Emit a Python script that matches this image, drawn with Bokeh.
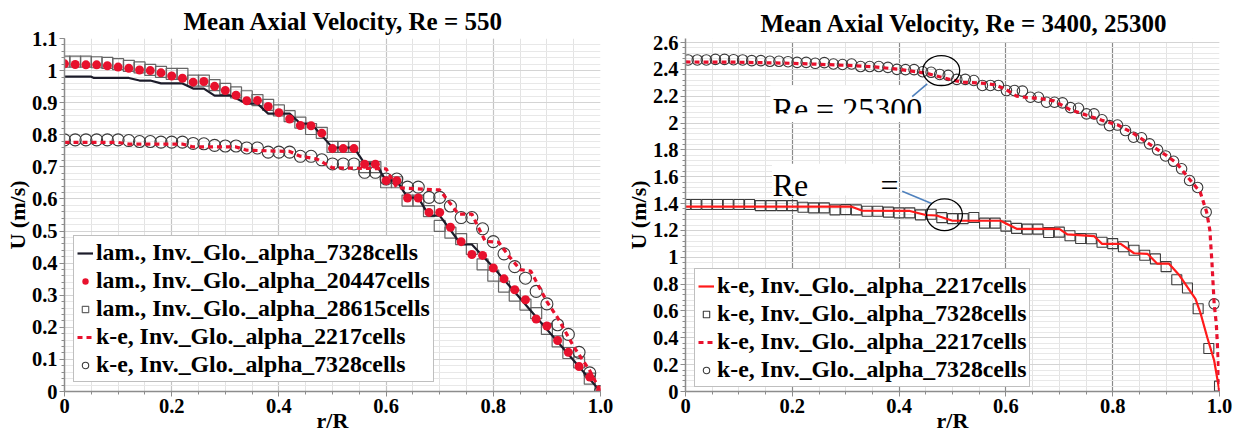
from bokeh.plotting import figure
from bokeh.layouts import row
from bokeh.models import FixedTicker, Legend, LegendItem, Range1d
from bokeh.core.properties import value
from bokeh.embed import file_html
from bokeh.resources import INLINE

SERIF = "Liberation Serif"
RED = "#e8112d"

# ---------------- data: left chart (Re = 550) ----------------
R_GRID = [0.00, 0.02, 0.04, 0.06, 0.08, 0.10, 0.12, 0.14, 0.16, 0.18,
          0.20, 0.22, 0.24, 0.26, 0.28, 0.30, 0.32, 0.34, 0.36, 0.38,
          0.40, 0.42, 0.44, 0.46, 0.48, 0.50, 0.52, 0.54, 0.56, 0.58,
          0.60, 0.62, 0.64, 0.66, 0.68, 0.70, 0.72, 0.74, 0.76, 0.78,
          0.80, 0.82, 0.84, 0.86, 0.88, 0.90, 0.92, 0.94, 0.96, 0.98, 1.00]

R_LAM_7328 = [0, 0.05, 0.055, 0.12, 0.14, 0.16, 0.18, 0.22, 0.24, 0.26, 0.28, 0.31,
              0.34, 0.36, 0.38, 0.42, 0.44, 0.46, 0.50, 0.54, 0.56, 0.58, 0.60, 0.62,
              0.64, 0.66, 0.68, 0.70, 0.74, 0.76, 0.80, 0.84, 0.88, 0.92, 0.96, 1.0]
U_LAM_7328 = [0.981, 0.981, 0.977, 0.977, 0.969, 0.969, 0.960, 0.960, 0.944, 0.944, 0.922, 0.922,
              0.897, 0.897, 0.866, 0.866, 0.835, 0.835, 0.760, 0.760, 0.710, 0.710, 0.657, 0.657,
              0.604, 0.604, 0.548, 0.548, 0.458, 0.458, 0.387, 0.310, 0.232, 0.155, 0.077, 0.0]

U_LAM_20447 = [1.021, 1.019, 1.018, 1.018, 1.015, 1.011, 1.007, 1.002, 1.000, 0.993,
               0.983, 0.976, 0.964, 0.966, 0.951, 0.938, 0.923, 0.906, 0.907, 0.888,
               0.869, 0.849, 0.829, 0.828, 0.805, 0.757, 0.757, 0.757, 0.708, 0.708,
               0.657, 0.657, 0.603, 0.603, 0.558, 0.558, 0.512, 0.467, 0.427, 0.424,
               0.385, 0.351, 0.317, 0.286, 0.226, 0.204, 0.159, 0.122, 0.078, 0.045, 0.003]

U_LAM_28615 = [1.028, 1.028, 1.028, 1.026, 1.024, 1.020, 1.015, 1.010, 1.002, 0.996,
               0.990, 0.990, 0.969, 0.969, 0.955, 0.943, 0.932, 0.920, 0.908, 0.893,
               0.876, 0.858, 0.838, 0.818, 0.806, 0.762, 0.762, 0.762, 0.699, 0.699,
               0.652, 0.652, 0.595, 0.595, 0.562, 0.516, 0.495, 0.475, 0.444, 0.396,
               0.361, 0.327, 0.299, 0.271, 0.244, 0.195, 0.156, 0.120, 0.091, 0.040, 0.0]

R_KE_2217_550 = [0, 0.10, 0.12, 0.22, 0.24, 0.32, 0.34, 0.42, 0.44, 0.47, 0.50, 0.60, 0.62,
                 0.70, 0.735, 0.76, 0.785, 0.81, 0.83, 0.85, 0.87, 0.90, 0.92, 0.95, 0.98, 1.0]
U_KE_2217_550 = [0.776, 0.776, 0.771, 0.771, 0.762, 0.762, 0.752, 0.748, 0.733, 0.725, 0.697, 0.694, 0.635,
                 0.628, 0.553, 0.553, 0.468, 0.465, 0.420, 0.380, 0.375, 0.280, 0.230, 0.140, 0.065, 0.0]

U_KE_7328_550 = [0.784, 0.784, 0.784, 0.784, 0.784, 0.784, 0.782, 0.779, 0.779, 0.777,
                 0.777, 0.777, 0.773, 0.772, 0.767, 0.765, 0.765, 0.759, 0.759, 0.746,
                 0.746, 0.746, 0.733, 0.733, 0.722, 0.709, 0.709, 0.709, 0.683, 0.683,
                 0.662, 0.662, 0.637, 0.637, 0.605, 0.605, 0.578, 0.542, 0.542, 0.507,
                 0.467, 0.429, 0.389, 0.353, 0.312, 0.273, 0.208, 0.178, 0.122, 0.058, 0.0]

# ---------------- data: right chart (Re = 3400, 25300) ----------------
R_KE_2217_3400 = [0, 0.31, 0.33, 0.42, 0.45, 0.47, 0.50, 0.59, 0.62, 0.70, 0.715, 0.765, 0.78,
                  0.815, 0.84, 0.865, 0.883, 0.905, 0.924, 0.94, 0.955, 0.964, 0.977, 0.99, 1.0]
U_KE_2217_3400 = [1.378, 1.378, 1.348, 1.345, 1.315, 1.311, 1.272, 1.272, 1.212, 1.212, 1.170, 1.158, 1.100,
                  1.100, 1.030, 1.026, 0.953, 0.953, 0.870, 0.777, 0.690, 0.590, 0.404, 0.231, 0.0]

U_KE_7328_3400 = [1.393, 1.393, 1.393, 1.393, 1.393, 1.393, 1.393, 1.385, 1.385, 1.385,
                  1.385, 1.373, 1.368, 1.368, 1.353, 1.355, 1.353, 1.343, 1.343, 1.336,
                  1.331, 1.331, 1.316, 1.320, 1.295, 1.288, 1.288, 1.296, 1.254, 1.254,
                  1.232, 1.215, 1.210, 1.210, 1.185, 1.187, 1.160, 1.140, 1.138, 1.112,
                  1.102, 1.078, 1.052, 1.015, 0.988, 0.930, 0.833, 0.771, 0.616, 0.320, 0.040]

R_KE_2217_25300 = [0, 0.10, 0.20, 0.30, 0.35, 0.40, 0.45, 0.50, 0.52, 0.56, 0.58, 0.60, 0.62,
                   0.64, 0.66, 0.69, 0.72, 0.75, 0.78, 0.81, 0.84, 0.87, 0.90, 0.92, 0.94,
                   0.964, 0.976, 0.982, 0.986, 0.99, 0.994, 0.998, 1.0]
U_KE_2217_25300 = [2.455, 2.453, 2.445, 2.430, 2.420, 2.400, 2.372, 2.320, 2.305, 2.295, 2.285, 2.250, 2.200,
                   2.190, 2.185, 2.165, 2.100, 2.060, 2.020, 1.985, 1.920, 1.840, 1.760, 1.700, 1.600,
                   1.485, 1.336, 1.200, 0.951, 0.653, 0.504, 0.206, 0.0]

R_KE_7328_25300 = [0.005, 0.022, 0.039, 0.056, 0.073, 0.090, 0.107, 0.124, 0.141, 0.158,
                   0.175, 0.192, 0.209, 0.226, 0.243, 0.260, 0.277, 0.294, 0.311, 0.328,
                   0.345, 0.362, 0.379, 0.396, 0.412, 0.428, 0.444, 0.460, 0.476, 0.492,
                   0.508, 0.524, 0.540, 0.556, 0.571, 0.586, 0.601, 0.616, 0.631, 0.646,
                   0.661, 0.676, 0.691, 0.706, 0.721, 0.736, 0.751, 0.765, 0.780, 0.794,
                   0.809, 0.824, 0.839, 0.854, 0.869, 0.884, 0.899, 0.914, 0.929, 0.944,
                   0.959, 0.975, 0.990]
U_KE_7328_25300 = [2.470, 2.470, 2.470, 2.474, 2.474, 2.472, 2.470, 2.465, 2.465, 2.460,
                   2.460, 2.457, 2.452, 2.452, 2.445, 2.450, 2.440, 2.436, 2.440, 2.421,
                   2.421, 2.421, 2.415, 2.400, 2.398, 2.398, 2.382, 2.378, 2.362, 2.355,
                   2.325, 2.325, 2.317, 2.280, 2.280, 2.280, 2.242, 2.242, 2.238, 2.192,
                   2.192, 2.155, 2.155, 2.150, 2.115, 2.110, 2.068, 2.068, 2.024, 1.981,
                   1.985, 1.944, 1.894, 1.890, 1.845, 1.800, 1.755, 1.715, 1.659, 1.572,
                   1.520, 1.336, 0.653]

# tick labels
X_TICKS = [0.0, 0.2, 0.4, 0.6, 0.8, 1.0]
X_LABELS = ["0", "0.2", "0.4", "0.6", "0.8", "1.0"]
Y1_TICKS = [0.0, 0.1, 0.2, 0.3, 0.4, 0.5, 0.6, 0.7, 0.8, 0.9, 1.0, 1.1]
Y1_LABELS = ["0", "0.1", "0.2", "0.3", "0.4", "0.5", "0.6", "0.7", "0.8", "0.9", "1", "1.1"]
Y2_TICKS = [0.0, 0.2, 0.4, 0.6, 0.8, 1.0, 1.2, 1.4, 1.6, 1.8, 2.0, 2.2, 2.4, 2.6]
Y2_LABELS = ["0", "0.2", "0.4", "0.6", "0.8", "1", "1.2", "1.4", "1.6", "1.8", "2", "2.2", "2.4", "2.6"]

LEG_LEFT = ["lam., Inv._Glo._alpha_7328cells", "lam., Inv._Glo._alpha_20447cells",
            "lam., Inv._Glo._alpha_28615cells", "k-e, Inv._Glo._alpha_2217cells",
            "k-e, Inv._Glo._alpha_7328cells"]
LEG_RIGHT = ["k-e, Inv._Glo._alpha_2217cells", "k-e, Inv._Glo._alpha_7328cells",
             "k-e, Inv._Glo._alpha_2217cells", "k-e, Inv._Glo._alpha_7328cells"]

for a, b in [(R_LAM_7328, U_LAM_7328), (R_GRID, U_LAM_20447), (R_GRID, U_LAM_28615),
             (R_KE_2217_550, U_KE_2217_550), (R_GRID, U_KE_7328_550),
             (R_KE_2217_3400, U_KE_2217_3400), (R_GRID, U_KE_7328_3400),
             (R_KE_2217_25300, U_KE_2217_25300), (R_KE_7328_25300, U_KE_7328_25300)]:
    assert len(a) == len(b), (len(a), len(b))


def style(p, yticks, ylabels, yminor, vmajor, title_standoff, title_offset):
    xminor = [i * 0.05 for i in range(21)]
    p.xaxis.ticker = FixedTicker(ticks=X_TICKS, minor_ticks=xminor)
    p.xaxis.major_label_overrides = dict(zip(X_TICKS, X_LABELS))
    p.yaxis.ticker = FixedTicker(ticks=yticks, minor_ticks=yminor)
    p.yaxis.major_label_overrides = dict(zip(yticks, ylabels))
    p.title.text_font = SERIF
    p.title.text_font_size = "25px"
    p.title.text_font_style = "bold"
    p.title.text_color = "black"
    p.title.align = "left"
    p.title.standoff = title_standoff
    p.title.offset = title_offset
    p.outline_line_color = None
    for ax in (p.xaxis[0], p.yaxis[0]):
        ax.major_label_text_font = SERIF
        ax.major_label_text_font_size = "20.5px"
        ax.major_label_text_font_style = "bold"
        ax.major_label_text_color = "black"
        ax.axis_label_text_font = SERIF
        ax.axis_label_text_font_size = "22px"
        ax.axis_label_text_font_style = "bold"
        ax.axis_label_text_color = "black"
        ax.axis_line_color = "#8c8c8c"
        ax.axis_line_width = 1.5
        ax.major_tick_line_color = "#8c8c8c"
        ax.minor_tick_line_color = "#8c8c8c"
        ax.major_tick_out = 5
        ax.major_tick_in = 0
        ax.minor_tick_out = 3
        ax.minor_tick_in = 0
        ax.major_label_standoff = 2
    p.xaxis.axis_label = "r/R"
    p.xaxis.axis_label_standoff = -8
    p.yaxis.axis_label = "U (m/s)"
    p.yaxis.axis_label_standoff = -1
    p.xgrid.grid_line_color = vmajor
    p.xgrid.grid_line_width = 1.2
    p.xgrid.minor_grid_line_color = "#e3e3e3"
    p.ygrid.grid_line_color = "#d4d4d4"
    p.ygrid.minor_grid_line_color = "#e8e8e8"


def legend(p, items, loc):
    leg = Legend(items=items, location=loc)
    leg.label_text_font = SERIF
    leg.label_text_font_size = "23.8px"
    leg.label_text_font_style = "bold"
    leg.label_text_color = "black"
    leg.border_line_color = "#808080"
    leg.border_line_width = 1.5
    leg.background_fill_alpha = 1.0
    leg.padding = 3
    leg.spacing = 1
    leg.margin = 0
    leg.label_height = 24
    leg.glyph_height = 24
    leg.glyph_width = 16
    leg.label_standoff = 3
    p.add_layout(leg)


# ---------------- left figure ----------------
p1 = figure(frame_width=536, frame_height=353, min_border_left=64, min_border_right=20,
            min_border_top=38, min_border_bottom=40, output_backend="svg",
            toolbar_location=None, title="Mean Axial Velocity, Re = 550",
            x_range=Range1d(0, 1.0), y_range=Range1d(0, 1.1))
style(p1, Y1_TICKS, Y1_LABELS, [i * 0.02 for i in range(56)], "#c4c4c4", 8, 119)

r_sq = p1.scatter(R_GRID, U_LAM_28615, marker="square", size=11, fill_color=None,
                  line_color="#666666", line_width=1.2)
r_ci = p1.scatter(R_GRID, U_KE_7328_550, marker="circle", size=12, fill_color=None,
                  line_color="#3a3a3a", line_width=1.1)
r_bl = p1.line(R_LAM_7328, U_LAM_7328, line_color="#1c1c2a", line_width=2.2)
r_da = p1.line(R_KE_2217_550, U_KE_2217_550, line_color=RED, line_width=3.2, line_dash="5 4")
r_do = p1.scatter(R_GRID, U_LAM_20447, marker="circle", size=9, fill_color=RED, line_color=None)

legend(p1, [LegendItem(label=value(LEG_LEFT[0]), renderers=[r_bl]),
            LegendItem(label=value(LEG_LEFT[1]), renderers=[r_do]),
            LegendItem(label=value(LEG_LEFT[2]), renderers=[r_sq]),
            LegendItem(label=value(LEG_LEFT[3]), renderers=[r_da]),
            LegendItem(label=value(LEG_LEFT[4]), renderers=[r_ci])], (9, 9))

# ---------------- right figure ----------------
# the frame is as tall as the left one; 2.6 sits 4 px below its top
p2 = figure(frame_width=534, frame_height=353, min_border_left=65, min_border_right=22,
            min_border_top=38, min_border_bottom=40, output_backend="svg",
            toolbar_location=None, title="Mean Axial Velocity, Re = 3400, 25300",
            x_range=Range1d(0, 1.0), y_range=Range1d(0, 2.6 * 353 / 349))
style(p2, Y2_TICKS, Y2_LABELS, [i * 0.04 for i in range(66)], "#8a8a8a", 4, 75)

# blank strip above 2.6
p2.quad(left=[0.0], right=[1.0], bottom=[2.6035], top=[2.64], fill_color="white", line_color=None)

q_sq = p2.scatter(R_GRID, U_KE_7328_3400, marker="square", size=10, fill_color=None,
                  line_color="#3c3c3c", line_width=1.1)
q_ci = p2.scatter(R_KE_7328_25300, U_KE_7328_25300, marker="circle", size=10.5, fill_color=None,
                  line_color="#3a3a3a", line_width=1.1)
q_so = p2.line(R_KE_2217_3400, U_KE_2217_3400, line_color="#ff1a1a", line_width=2.2)
q_da = p2.line(R_KE_2217_25300, U_KE_2217_25300, line_color=RED, line_width=3.2, line_dash="5 4")

# callout annotations (white text boxes, ellipses, connector lines)
BOX_L = [0.159, 0.162]
BOX_R = [0.444, 0.399]
BOX_B = [2.071, 1.460]
BOX_T = [2.279, 1.696]
p2.quad(left=BOX_L, right=BOX_R, bottom=BOX_B, top=BOX_T, fill_color="white", line_color=None)
p2.text(x=[0.163, 0.163, 0.365], y=[2.108, 1.542, 1.542], text=["Re = 25300", "Re", "="],
        text_font=value(SERIF), text_font_size=value("32px"), text_color="black",
        text_baseline="middle", text_align="left")
# box 1 clips the bottom of its text
p2.quad(left=[0.159], right=[0.444], bottom=[2.008], top=[2.071], fill_color="white", line_color=None)
p2.segment(x0=[0.4245, 0.4058], y0=[2.197, 1.492], x1=[0.4526, 0.462], y1=[2.292, 1.398],
           line_color="#4f81bd", line_width=1.6)
p2.ellipse(x=[0.479, 0.485], y=[2.391, 1.317], width=[0.069, 0.067], height=[0.223, 0.236],
           fill_color=None, line_color="black", line_width=1.3)

legend(p2, [LegendItem(label=value(LEG_RIGHT[0]), renderers=[q_so]),
            LegendItem(label=value(LEG_RIGHT[1]), renderers=[q_sq]),
            LegendItem(label=value(LEG_RIGHT[2]), renderers=[q_da]),
            LegendItem(label=value(LEG_RIGHT[3]), renderers=[q_ci])], (9, 4))

layout = row(p1, p2)
open("out.html", "w").write(file_html(layout, INLINE))
